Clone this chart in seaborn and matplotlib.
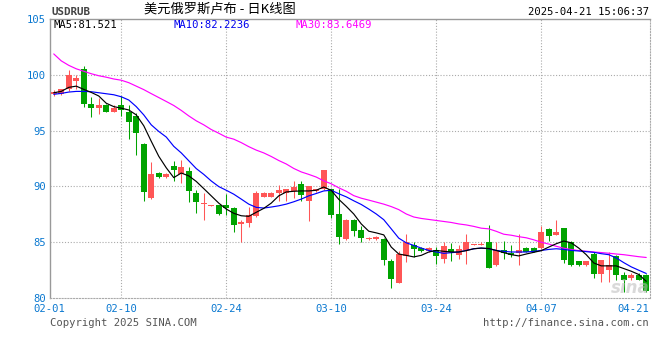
import matplotlib
matplotlib.use("Agg")
import matplotlib.pyplot as plt
import matplotlib.transforms as mtransforms
import seaborn as sns
import pandas as pd

# daily candles 2025-02-01 .. 2025-04-21
dates = pd.date_range("2025-02-01", "2025-04-21", freq="D")

opens = [98.3, 98.3, 98.7, 99.45, 100.5, 97.4, 97.0, 97.3, 96.7, 97.3,
         96.7, 96.3, 93.8, 89.0, 91.2, 90.85, 91.8, 91.15, 91.35, 89.4,
         88.4, 88.28, 88.3, 88.3, 88.1, 86.6, 86.75, 87.4, 89.1, 89.1,
         89.42, 89.4, 89.55, 90.2, 88.7, 89.57, 89.75, 89.75, 87.54, 85.3,
         87.0, 86.1, 85.28, 85.26, 85.3, 83.3, 81.4, 83.75, 84.75, 84.5,
         84.2, 84.35, 83.55, 84.45, 83.85, 84.35, 84.78, 84.78, 85.0, 82.95,
         84.3, 84.05, 84.08, 84.5, 84.5, 84.5, 86.2, 85.7, 86.3, 85.05,
         83.3, 82.95, 84.0, 82.2, 82.5, 83.8, 82.05, 81.85, 82.1, 82.1]
highs = [98.6, 98.75, 100.4, 100.0, 100.75, 98.0, 97.9, 97.35, 97.3, 98.1,
         97.3, 96.6, 93.9, 92.2, 91.25, 91.2, 92.3, 92.4, 91.7, 89.7,
         89.4, 88.35, 88.35, 89.3, 88.2, 87.0, 88.2, 89.6, 89.5, 89.5,
         90.1, 89.8, 90.46, 90.46, 90.0, 89.8, 91.5, 89.8, 89.75, 87.05,
         87.05, 86.5, 85.5, 85.55, 85.35, 83.55, 84.2, 85.75, 85.0, 84.55,
         84.55, 84.6, 85.0, 84.9, 84.75, 85.75, 84.85, 85.0, 86.55, 85.0,
         85.1, 84.75, 85.75, 84.55, 84.55, 86.5, 86.25, 87.0, 86.3, 85.1,
         83.35, 83.35, 84.15, 83.45, 84.15, 83.85, 82.35, 82.3, 82.3, 82.15]
lows = [98.1, 98.2, 98.5, 98.7, 97.1, 96.25, 96.5, 96.65, 96.65, 96.3,
        94.25, 92.8, 88.7, 88.9, 90.8, 90.8, 90.5, 90.35, 88.65, 87.6,
        87.0, 88.25, 87.45, 87.45, 85.95, 85.0, 86.35, 87.3, 89.05, 89.05,
        88.7, 88.7, 88.95, 88.7, 86.94, 89.5, 89.7, 87.2, 84.88, 85.2,
        85.6, 85.0, 85.25, 85.2, 82.95, 80.95, 81.4, 83.25, 83.7, 84.15,
        84.1, 83.1, 83.2, 83.35, 83.5, 83.1, 84.75, 84.75, 82.7, 82.9,
        83.55, 83.7, 82.95, 84.1, 84.1, 84.45, 85.15, 85.65, 83.2, 82.9,
        82.9, 82.9, 81.85, 81.5, 81.5, 81.6, 80.55, 81.6, 81.6, 80.6]
closes = [98.45, 98.7, 100.0, 99.7, 97.35, 97.0, 97.3, 96.7, 96.98, 96.85,
          95.8, 94.8, 89.5, 91.1, 90.85, 91.15, 91.45, 91.7, 89.6, 88.65,
          88.5, 88.33, 87.5, 88.05, 86.55, 86.8, 87.45, 89.4, 89.45, 89.45,
          89.66, 89.75, 89.96, 89.28, 90.0, 89.75, 91.5, 87.45, 85.47, 87.0,
          86.05, 85.4, 85.35, 85.52, 83.4, 81.7, 83.95, 85.0, 84.45, 84.2,
          84.5, 83.75, 84.65, 84.15, 84.45, 85.0, 84.82, 84.82, 82.75, 84.3,
          84.05, 83.9, 84.28, 84.15, 84.15, 85.95, 85.6, 85.95, 83.4, 82.95,
          82.95, 83.3, 82.2, 83.4, 82.95, 82.05, 81.65, 82.1, 81.65, 80.65]

ma5 = [98.38, 98.5, 98.86, 98.97, 98.68, 98.41, 98.09, 97.44, 97.14, 97.0,
       96.84, 96.4, 95.43, 94.04, 92.7, 91.67, 90.79, 91.2, 90.95, 90.45,
       89.81, 89.16, 88.51, 87.98, 87.6, 87.38, 87.33, 87.69, 88.04, 88.51,
       89.16, 89.51, 89.57, 89.6, 89.6, 89.66, 89.95, 89.65, 88.85, 88.22,
       87.54, 86.65, 86.0, 85.85, 85.67, 84.58, 83.96, 83.84, 83.7, 83.84,
       84.14, 84.28, 84.2, 84.14, 84.14, 84.26, 84.43, 84.49, 84.45, 84.28,
       84.08, 83.9, 83.79, 83.96, 84.11, 84.26, 84.58, 84.88, 85.12, 84.96,
       84.49, 83.9, 83.16, 82.9, 82.9, 82.9, 82.66, 82.42, 82.13, 81.52]
ma10 = [98.24, 98.32, 98.44, 98.5, 98.5, 98.47, 98.38, 98.29, 98.2, 98.02,
        97.73, 97.14, 96.4, 95.51, 94.92, 94.42, 93.59, 93.0, 92.3, 91.6,
        91.08, 90.49, 89.99, 89.66, 89.31, 88.87, 88.42, 88.13, 88.07, 88.16,
        88.27, 88.42, 88.63, 88.87, 89.16, 89.37, 89.6, 89.66, 89.35, 89.07,
        88.72, 88.39, 87.98, 87.54, 87.03, 86.21, 85.38, 84.96, 84.73, 84.49,
        84.28, 84.14, 84.02, 84.08, 84.14, 84.28, 84.43, 84.49, 84.43, 84.28,
        84.2, 84.14, 84.14, 84.14, 84.2, 84.28, 84.37, 84.43, 84.37, 84.28,
        84.23, 84.17, 84.11, 83.99, 83.9, 83.61, 83.19, 82.81, 82.51, 82.22]
ma30 = [101.85, 101.23, 100.83, 100.52, 100.3, 100.08, 99.9, 99.77, 99.61, 99.5,
        99.28, 98.97, 98.66, 98.3, 97.95, 97.6, 97.24, 96.8, 96.31, 95.87,
        95.51, 95.09, 94.76, 94.41, 94.23, 93.92, 93.56, 93.25, 93.0, 92.68,
        92.32, 92.01, 91.61, 91.3, 91.08, 90.84, 90.5, 90.24, 89.88, 89.57,
        89.18, 88.95, 88.78, 88.6, 88.42, 88.2, 87.93, 87.54, 87.27, 87.14,
        87.05, 86.96, 86.87, 86.78, 86.65, 86.56, 86.43, 86.27, 86.21, 85.99,
        85.73, 85.64, 85.51, 85.41, 85.23, 85.01, 84.85, 84.65, 84.48, 84.36,
        84.27, 84.21, 84.14, 84.09, 84.03, 83.96, 83.9, 83.81, 83.72, 83.65]

ma_labels = ["MA5:81.521", "MA10:82.2236", "MA30:83.6469"]
tick_dates = ["02-01", "02-10", "02-24", "03-10", "03-24", "04-07", "04-21"]
y_ticks = [80, 85, 90, 95, 100, 105]

RED = "#ff5656"
GREEN = "#00a300"
GRID = "#aaaaaa"
AXIS_BLUE = "#0a78d0"
MONO = "DejaVu Sans Mono"

sns.set_style("white")
plt.rcParams["font.family"] = ["Noto Sans CJK SC", "DejaVu Sans"]

df = pd.DataFrame({"date": dates, "open": opens, "high": highs, "low": lows,
                   "close": closes, "ma5": ma5, "ma10": ma10, "ma30": ma30})
df["idx"] = range(len(df))
df["label"] = df["date"].dt.strftime("%m-%d")

fig = plt.figure(figsize=(6.6, 3.6), dpi=100)
W, H = 660, 360
top_px, bot_px, left_px, right_px = 18.7, 298.3, 50, 650
ax = fig.add_axes([left_px / W, 1 - bot_px / H, (right_px - left_px) / W, (bot_px - top_px) / H])

ax.set_xlim(-0.5, len(df) - 0.5)
ax.set_ylim(80, 105)

# dotted grid
tick_idx = [int(df.index[df["label"] == t][0]) for t in tick_dates]
for v in y_ticks[1:-1]:
    ax.axhline(v, color=GRID, lw=0.8, ls=(0, (1, 1.6)), zorder=0)
for t in tick_idx[1:-1]:
    ax.axvline(t, color=GRID, lw=0.8, ls=(0, (1, 1.6)), zorder=0)

# candles (red = up, green = down)
for _, r in df.iterrows():
    col = RED if r["close"] >= r["open"] else GREEN
    ax.vlines(r["idx"], r["low"], r["high"], color=col, lw=0.75, zorder=2)
    lo = min(r["open"], r["close"])
    h = max(abs(r["close"] - r["open"]), 0.09)
    ax.bar(r["idx"], h, bottom=lo, width=0.8, color=col, linewidth=0, zorder=3)

# moving averages
sns.lineplot(data=df, x="idx", y="ma30", color="#ff00ff", lw=0.85, ax=ax, zorder=4)
sns.lineplot(data=df, x="idx", y="ma10", color="#0000ff", lw=0.85, ax=ax, zorder=5)
sns.lineplot(data=df, x="idx", y="ma5", color="black", lw=0.85, ax=ax, zorder=6)

# frame: solid left/top, dotted right/bottom
for s in ["left", "top"]:
    ax.spines[s].set_color("#999999")
    ax.spines[s].set_linewidth(1)
for s in ["right", "bottom"]:
    ax.spines[s].set_color(GRID)
    ax.spines[s].set_linewidth(0.8)
    ax.spines[s].set_linestyle((0, (1, 1.6)))

ax.set_xlabel("")
ax.set_ylabel("")
ax.set_yticks(y_ticks)
ax.set_yticklabels([str(v) for v in y_ticks], family=MONO, fontsize=7.6, color=AXIS_BLUE)
ax.set_xticks(tick_idx)
ax.set_xticklabels(tick_dates, family=MONO, fontsize=7.6, color=AXIS_BLUE)
ax.tick_params(axis="y", length=0, pad=3)
ax.tick_params(axis="x", length=0, pad=4)
xl = ax.get_xticklabels()
xl[0].set_transform(xl[0].get_transform() + mtransforms.ScaledTranslation(-4 / 100, 0, fig.dpi_scale_trans))
xl[-1].set_horizontalalignment("right")
xl[-1].set_transform(xl[-1].get_transform() + mtransforms.ScaledTranslation(3 / 100, 0, fig.dpi_scale_trans))

# header texts
fig.text(52 / W, 1 - 12 / H, "USDRUB", family=MONO, fontsize=7.8, color="#444444",
         va="center", ha="left", fontweight="bold")
fig.text(220 / W, 1 - 8.5 / H, "美元俄罗斯卢布 - 日K线图", fontsize=9.5, color="black",
         va="center", ha="center")
fig.text(649 / W, 1 - 12 / H, "2025-04-21 15:06:37", family=MONO, fontsize=7.6,
         color="black", va="center", ha="right")

fig.text(54 / W, 1 - 24.5 / H, ma_labels[0], family=MONO, fontsize=7.6, color="black", va="center")
fig.text(174 / W, 1 - 24.5 / H, ma_labels[1], family=MONO, fontsize=7.6, color="#0000ee", va="center")
fig.text(295 / W, 1 - 24.5 / H, ma_labels[2], family=MONO, fontsize=7.6, color="#ff00ff", va="center")

# watermark + footer
fig.text(630 / W, 1 - 288 / H, "sina", fontsize=12, style="italic", fontweight="bold",
         color="#bbbbbb", alpha=0.55, ha="center", va="center", family="DejaVu Sans")
fig.text(50 / W, 1 - 323.5 / H, "Copyright 2025 SINA.COM", family=MONO, fontsize=7.6,
         color="#555555", va="center", ha="left")
fig.text(649 / W, 1 - 323.5 / H, "http://finance.sina.com.cn", family=MONO, fontsize=7.6,
         color="#555555", va="center", ha="right")

fig.savefig("out.png", dpi=100)
